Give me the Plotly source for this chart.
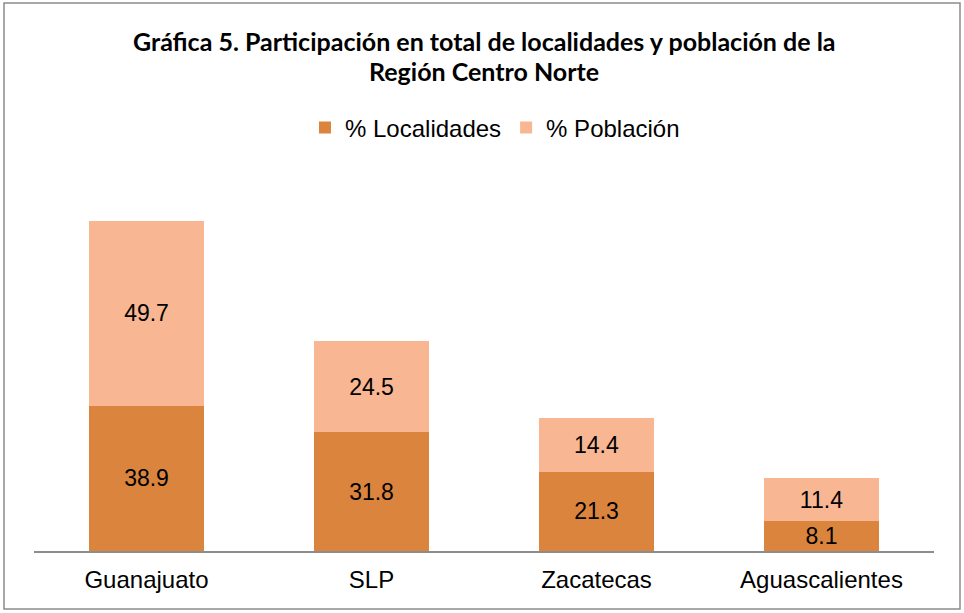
import plotly.graph_objects as go

categories = ["Guanajuato", "SLP", "Zacatecas", "Aguascalientes"]
localidades = [38.9, 31.8, 21.3, 8.1]
poblacion = [49.7, 24.5, 14.4, 11.4]
series_names = ["% Localidades", "% Población"]
title_lines = ["Gráfica 5. Participación en total de localidades y población de la",
               "Región Centro Norte"]

W, H = 964, 613
ml, mr, mt, mb = 34, 30, 178, 62
pw, ph = W - ml - mr, H - mt - mb

c_dark = "#DB843E"
c_light = "#F8B692"
FONT = "Liberation Sans, Arial, sans-serif"
txtfont = dict(family=FONT, size=23, color="#000000")

fig = go.Figure()
fig.add_trace(go.Bar(x=categories, y=localidades, name=series_names[0],
                     marker=dict(color=c_dark, line=dict(width=0)),
                     text=[f"{v:.1f}" for v in localidades], textposition="inside",
                     insidetextanchor="middle", textfont=txtfont, textangle=0,
                     constraintext="none"))
fig.add_trace(go.Bar(x=categories, y=poblacion, name=series_names[1],
                     marker=dict(color=c_light, line=dict(width=0)),
                     text=[f"{v:.1f}" for v in poblacion], textposition="inside",
                     insidetextanchor="middle", textfont=txtfont, textangle=0,
                     constraintext="none"))

def px_x(x):
    return (x - ml) / pw

def px_y(y):
    return (H - mb - y) / ph

annotations = []
for line, yc in zip(title_lines, [41, 71]):
    annotations.append(dict(text=f"<b>{line}</b>", x=0.5, xref="paper",
                            y=px_y(yc), yref="paper", yanchor="middle", xanchor="center",
                            showarrow=False,
                            font=dict(family="Lato, Open Sans, sans-serif", size=25, color="#000")))

fig.update_layout(
    width=W, height=H,
    margin=dict(l=ml, r=mr, t=mt, b=mb, pad=0),
    paper_bgcolor="white", plot_bgcolor="white",
    barmode="stack", bargap=0.485,
    uniformtext=dict(mode=False),
    showlegend=True,
    legend=dict(orientation="h", x=px_x(495), xanchor="center", y=px_y(128), yanchor="middle",
                font=dict(family=FONT, size=24, color="#000"),
                traceorder="normal", itemwidth=30, bgcolor="rgba(0,0,0,0)"),
    xaxis=dict(showline=True, linecolor="#8C8C8C", linewidth=2, ticks="", showgrid=False,
               tickfont=dict(family=FONT, size=24, color="#000"),
               ticklabelstandoff=6),
    yaxis=dict(range=[0, 100], visible=False, showgrid=False, zeroline=False),
    annotations=annotations,
    shapes=[dict(type="rect", xref="paper", yref="paper",
                 x0=px_x(4), x1=px_x(960), y0=px_y(609), y1=px_y(3),
                 line=dict(color="#8C8C8C", width=1.5), fillcolor="rgba(0,0,0,0)",
                 layer="below")],
)

fig.write_html("out.html", config={"displayModeBar": False},
               post_script="document.body.style.margin='0';document.body.style.overflow='hidden';")
